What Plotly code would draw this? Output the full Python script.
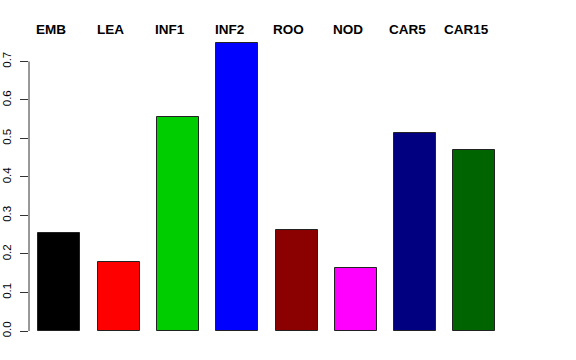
import plotly.graph_objects as go

categories = ["EMB", "LEA", "INF1", "INF2", "ROO", "NOD", "CAR5", "CAR15"]
values = [0.254, 0.179, 0.557, 0.749, 0.262, 0.163, 0.514, 0.470]
colors = ["#000000", "#FF0000", "#00CD00", "#0000FF", "#8B0000", "#FF00FF", "#000080", "#006400"]
tick_vals = [0.0, 0.1, 0.2, 0.3, 0.4, 0.5, 0.6, 0.7]
tick_text = ["0.0", "0.1", "0.2", "0.3", "0.4", "0.5", "0.6", "0.7"]

fig = go.Figure()
fig.add_trace(go.Bar(
    x=categories, y=values, width=0.708,
    marker=dict(color=colors, line=dict(color="#222222", width=1)),
    showlegend=False, hoverinfo="skip",
))

for c in categories:
    fig.add_annotation(
        x=c, y=1, xref="x", yref="paper", text=c, showarrow=False,
        xshift=-8, yshift=13, yanchor="middle",
        font=dict(family="Liberation Sans", size=13.5, color="black", weight="bold"),
    )

fig.add_shape(type="line", xref="paper", yref="y", x0=0, x1=0, y0=0, y1=0.7,
              line=dict(color="#333333", width=1))

fig.update_layout(
    width=576, height=360,
    margin=dict(l=29, r=64, t=42, b=29),
    plot_bgcolor="white", paper_bgcolor="white",
    bargap=0,
    xaxis=dict(range=[-0.511, 7.634], showticklabels=False, showgrid=False,
               zeroline=False, showline=False, ticks="", automargin=False),
    yaxis=dict(range=[0, 0.7506], tickvals=tick_vals, ticktext=tick_text,
               tickangle=-90, ticks="outside", ticklen=8, tickcolor="#333333",
               tickwidth=1, showgrid=False, zeroline=False, showline=False,
               ticklabelstandoff=4, automargin=False,
               tickfont=dict(family="Liberation Sans", size=11.5, color="black")),
)

fig.write_html("out.html", config={"displayModeBar": False},
               post_script="document.body.style.margin='0';")
